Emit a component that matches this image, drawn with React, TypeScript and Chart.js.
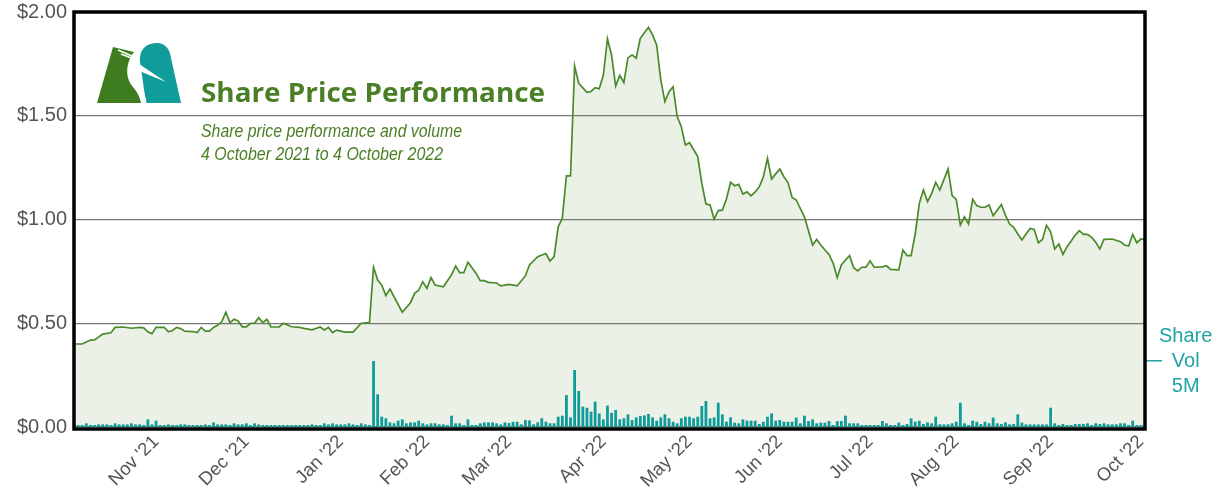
import React, { useEffect, useRef } from 'react';
import { Chart, registerables } from 'chart.js';

Chart.register(...registerables);

// ---------- DATA ----------
const startDate = '2021-10-04';
const endDate = '2022-10-04';

const monthStarts = ['2021-11', '2021-12', '2022-01', '2022-02', '2022-03', '2022-04', '2022-05', '2022-06', '2022-07', '2022-08', '2022-09', '2022-10'];
const monthLabels = ["Nov '21", "Dec '21", "Jan '22", "Feb '22", "Mar '22", "Apr '22", "May '22", "Jun '22", "Jul '22", "Aug '22", "Sep '22", "Oct '22"];

const priceTicks = [0, 0.5, 1, 1.5, 2];
const volumeTick = 5;
const volumeTickLabel = ['Share', 'Vol', '5M'];

// price: trading-day index and close price (A$)
const priceDay = [
  0, 2, 4, 5, 7, 9, 10, 12, 14, 16, 17, 18, 19, 20, 22, 23, 24, 25, 26, 27,
  29, 30, 31, 32, 33, 34, 35, 36, 37, 38, 39, 40, 41, 42, 43, 44, 45, 46, 47, 48,
  50, 51, 53, 55, 56, 58, 60, 61, 62, 63, 64, 66, 68, 70, 72, 73, 74, 75, 76, 77,
  80, 82, 83, 84, 85, 86, 87, 88, 90, 92, 93, 94, 95, 96, 98, 99, 100, 101, 103, 104,
  106, 108, 110, 111, 113, 115, 116, 117, 118, 119, 120, 121, 122, 123, 125, 126, 127, 128, 129, 130,
  131, 132, 133, 134, 135, 136, 137, 138, 139, 140, 141, 142, 143, 144, 145, 146, 147, 148, 149, 150,
  152, 153, 154, 155, 156, 157, 158, 159, 160, 161, 162, 163, 164, 165, 166, 167, 168, 169, 170, 171,
  172, 173, 174, 175, 176, 178, 180, 181, 182, 183, 184, 185, 186, 187, 188, 189, 190, 191, 192, 193,
  194, 195, 197, 198, 199, 201, 202, 203, 204, 205, 206, 207, 208, 209, 210, 211, 213, 214, 215, 216,
  217, 218, 219, 220, 221, 222, 223, 224, 226, 227, 228, 229, 230, 231, 232, 233, 234, 235, 236, 237,
  238, 239, 240, 241, 242, 243, 244, 245, 246, 247, 248, 249, 250, 251, 253, 255, 256, 257, 258, 259,
  260, 261,
];
const priceValue = [
  0.40, 0.40, 0.419, 0.42, 0.448, 0.454, 0.48, 0.482, 0.476, 0.48, 0.478, 0.459, 0.45, 0.48, 0.48, 0.459, 0.465, 0.48, 0.474, 0.462,
  0.46, 0.455, 0.48, 0.462, 0.462, 0.48, 0.49, 0.507, 0.553, 0.503, 0.519, 0.511, 0.483, 0.483, 0.50, 0.50, 0.527, 0.503, 0.519, 0.482,
  0.482, 0.50, 0.483, 0.48, 0.475, 0.468, 0.482, 0.468, 0.48, 0.455, 0.467, 0.457, 0.457, 0.50, 0.503, 0.77, 0.708, 0.684, 0.633, 0.665,
  0.553, 0.599, 0.644, 0.659, 0.70, 0.668, 0.72, 0.684, 0.676, 0.733, 0.776, 0.744, 0.744, 0.794, 0.74, 0.705, 0.705, 0.697, 0.694, 0.68,
  0.687, 0.68, 0.728, 0.781, 0.821, 0.836, 0.80, 0.821, 0.965, 1.006, 1.21, 1.21, 1.74, 1.656, 1.613, 1.617, 1.635, 1.63, 1.696, 1.871,
  1.793, 1.643, 1.694, 1.66, 1.78, 1.793, 1.777, 1.873, 1.90, 1.926, 1.89, 1.84, 1.672, 1.568, 1.616, 1.64, 1.496, 1.447, 1.359, 1.37,
  1.303, 1.174, 1.075, 1.07, 1.002, 1.043, 1.045, 1.099, 1.179, 1.163, 1.17, 1.123, 1.133, 1.114, 1.133, 1.157, 1.206, 1.295, 1.195, 1.22,
  1.243, 1.206, 1.178, 1.106, 1.094, 1.013, 0.877, 0.904, 0.877, 0.853, 0.832, 0.789, 0.72, 0.781, 0.805, 0.826, 0.768, 0.752, 0.77, 0.77,
  0.801, 0.77, 0.772, 0.777, 0.76, 0.757, 0.853, 0.826, 0.826, 0.93, 1.078, 1.142, 1.086, 1.125, 1.179, 1.142, 1.243, 1.115, 1.097, 0.973,
  1.013, 0.978, 1.097, 1.067, 1.059, 1.059, 1.07, 1.018, 1.072, 1.02, 0.978, 0.962, 0.93, 0.901, 0.93, 0.957, 0.952, 0.888, 0.904, 0.972,
  0.941, 0.858, 0.882, 0.832, 0.869, 0.896, 0.925, 0.946, 0.928, 0.928, 0.914, 0.89, 0.858, 0.904, 0.906, 0.893, 0.877, 0.872, 0.928, 0.888,
  0.906, 0.904,
];

// daily volume, millions of shares, one per trading day
const volumeM = [
  0.15, 0.15, 0.15, 0.28, 0.15, 0.15, 0.2, 0.2, 0.2, 0.15,
  0.28, 0.2, 0.2, 0.2, 0.28, 0.2, 0.2, 0.15, 0.58, 0.2,
  0.48, 0.15, 0.15, 0.2, 0.15, 0.15, 0.2, 0.2, 0.15, 0.15,
  0.15, 0.15, 0.2, 0.15, 0.35, 0.2, 0.2, 0.2, 0.15, 0.28,
  0.2, 0.2, 0.28, 0.15, 0.28, 0.2, 0.15, 0.15, 0.15, 0.15,
  0.15, 0.15, 0.15, 0.15, 0.15, 0.15, 0.15, 0.15, 0.2, 0.15,
  0.15, 0.28, 0.2, 0.28, 0.2, 0.2, 0.2, 0.28, 0.2, 0.15,
  0.28, 0.2, 0.15, 5.0, 2.48, 0.78, 0.66, 0.35, 0.28, 0.48,
  0.58, 0.28, 0.35, 0.35, 0.48, 0.28, 0.2, 0.28, 0.28, 0.2,
  0.2, 0.15, 0.86, 0.28, 0.28, 0.15, 0.58, 0.15, 0.15, 0.28,
  0.35, 0.35, 0.35, 0.28, 0.2, 0.35, 0.3, 0.4, 0.4, 0.2,
  0.53, 0.5, 0.2, 0.35, 0.66, 0.4, 0.28, 0.28, 0.78, 0.86,
  2.42, 0.73, 4.32, 2.73, 1.54, 1.46, 1.16, 1.92, 1.03, 0.58,
  1.62, 1.08, 1.29, 0.58, 0.66, 0.96, 0.53, 0.73, 0.83, 0.88,
  0.99, 0.73, 0.48, 0.73, 0.96, 0.66, 0.4, 0.28, 0.66, 0.78,
  0.78, 0.66, 0.78, 1.59, 1.97, 0.66, 0.73, 1.84, 0.96, 0.4,
  0.73, 0.33, 0.28, 0.58, 0.48, 0.48, 0.48, 0.23, 0.4, 0.78,
  1.03, 0.48, 0.53, 0.4, 0.4, 0.4, 0.71, 0.28, 0.86, 0.45,
  0.58, 0.28, 0.33, 0.33, 0.45, 0.15, 0.45, 0.45, 0.86, 0.28,
  0.28, 0.28, 0.15, 0.15, 0.15, 0.15, 0.15, 0.45, 0.28, 0.15,
  0.15, 0.33, 0.15, 0.23, 0.66, 0.4, 0.48, 0.23, 0.35, 0.28,
  0.78, 0.2, 0.2, 0.2, 0.28, 0.4, 1.84, 0.28, 0.15, 0.48,
  0.4, 0.23, 0.4, 0.28, 0.71, 0.28, 0.23, 0.35, 0.2, 0.23,
  0.96, 0.33, 0.2, 0.2, 0.2, 0.2, 0.2, 0.2, 1.46, 0.28,
  0.15, 0.23, 0.15, 0.15, 0.23, 0.23, 0.23, 0.28, 0.15, 0.28,
  0.23, 0.28, 0.2, 0.2, 0.2, 0.28, 0.28, 0.15, 0.48, 0.15,
  0.15, 0.15,
];

const titleText = 'Share Price Performance';
const subtitleLines = ['Share price performance and volume', '4 October 2021 to 4 October 2022'];

// ---------- helpers ----------
function tradingDays(from: string, to: string): string[] {
  const out: string[] = [];
  const d = new Date(from + 'T00:00:00Z');
  const end = new Date(to + 'T00:00:00Z');
  while (d.getTime() <= end.getTime()) {
    const wd = d.getUTCDay();
    if (wd !== 0 && wd !== 6) out.push(d.toISOString().slice(0, 10));
    d.setUTCDate(d.getUTCDate() + 1);
  }
  return out;
}

const GREEN = '#4a7f25';
const LINE_GREEN = '#4b8a2b';
const TEAL = '#0e9b9a';
const TEAL_TEXT = '#1fa3a3';
const FONT = '"Liberation Sans", Arial, sans-serif';

function fitText(ctx: CanvasRenderingContext2D, text: string, x: number, y: number, width: number) {
  const w = ctx.measureText(text).width;
  const sx = Math.max(0.8, Math.min(1.25, width / w));
  ctx.save();
  ctx.translate(x, y);
  ctx.scale(sx, 1);
  ctx.fillText(text, 0, 0);
  ctx.restore();
}

const overlayPlugin = {
  id: 'overlay',
  afterDraw(chart: any) {
    const { ctx, chartArea: a } = chart;
    ctx.save();
    // frame
    ctx.strokeStyle = '#000';
    ctx.lineWidth = 3.5;
    ctx.strokeRect(a.left, a.top, a.right - a.left, a.bottom - a.top + 2);

    // logo
    const ox = a.left, oy = a.top;
    ctx.fillStyle = '#0f9c9a';
    ctx.beginPath();
    ctx.moveTo(ox + 72, oy + 91);
    ctx.lineTo(ox + 66, oy + 50);
    ctx.bezierCurveTo(ox + 65, oy + 34, ox + 76, oy + 31, ox + 83, oy + 31);
    ctx.bezierCurveTo(ox + 92, oy + 31, ox + 96, oy + 38, ox + 97, oy + 46);
    ctx.lineTo(ox + 107, oy + 91);
    ctx.closePath();
    ctx.fill();

    ctx.fillStyle = '#3e7d1f';
    ctx.beginPath();
    ctx.moveTo(ox + 23, oy + 91);
    ctx.lineTo(ox + 39, oy + 35);
    ctx.lineTo(ox + 60, oy + 40);
    ctx.bezierCurveTo(ox + 52, oy + 50, ox + 50, oy + 66, ox + 60, oy + 76);
    ctx.bezierCurveTo(ox + 64, oy + 81, ox + 66, oy + 86, ox + 67, oy + 91);
    ctx.closePath();
    ctx.fill();

    // white bird neck and beak
    ctx.strokeStyle = '#fff';
    ctx.lineWidth = 5;
    ctx.beginPath();
    ctx.moveTo(ox + 63, oy + 44);
    ctx.bezierCurveTo(ox + 55, oy + 56, ox + 56, oy + 68, ox + 64, oy + 77);
    ctx.bezierCurveTo(ox + 68, oy + 82, ox + 70, oy + 87, ox + 70, oy + 91);
    ctx.stroke();
    ctx.fillStyle = '#fff';
    ctx.beginPath();
    ctx.moveTo(ox + 62, oy + 50);
    ctx.lineTo(ox + 92, oy + 70);
    ctx.lineTo(ox + 63, oy + 58);
    ctx.closePath();
    ctx.fill();
    ctx.lineWidth = 1.5;
    ctx.beginPath();
    ctx.moveTo(ox + 44, oy + 38);
    ctx.lineTo(ox + 58, oy + 44);
    ctx.moveTo(ox + 47, oy + 42);
    ctx.lineTo(ox + 60, oy + 47);
    ctx.stroke();

    // title
    ctx.fillStyle = GREEN;
    ctx.textBaseline = 'alphabetic';
    ctx.textAlign = 'left';
    ctx.font = 'bold 26px "Open Sans", sans-serif';
    fitText(ctx, titleText, ox + 127, oy + 90, 344);
    ctx.font = 'italic 17.5px ' + FONT;
    fitText(ctx, subtitleLines[0], ox + 127, oy + 125, 261);
    fitText(ctx, subtitleLines[1], ox + 127, oy + 148, 242);
    ctx.restore();
  },
};

const noPad = (s: any) => {
  s.paddingTop = 0;
  s.paddingBottom = 0;
};

export default function App() {
  const canvasRef = useRef<HTMLCanvasElement | null>(null);

  useEffect(() => {
    document.body.style.margin = '0';
    const days = tradingDays(startDate, endDate);
    const tickIdx = monthStarts.map((m) => days.findIndex((d) => d.startsWith(m)));
    const tickLabelByIdx: Record<number, string> = {};
    tickIdx.forEach((t, k) => (tickLabelByIdx[t] = monthLabels[k]));

    const priceData = priceDay.map((d, k) => ({ x: d, y: priceValue[k] }));
    const volData = volumeM.map((v, k) => ({ x: k, y: v }));

    Chart.defaults.font.family = FONT;

    const chart = new Chart(canvasRef.current as HTMLCanvasElement, {
      type: 'line',
      data: {
        datasets: [
          {
            type: 'bar',
            label: 'Volume',
            data: volData as any,
            yAxisID: 'yv',
            backgroundColor: TEAL,
            borderWidth: 0,
            barPercentage: 0.68,
            categoryPercentage: 1,
            order: 0,
          } as any,
          {
            type: 'line',
            label: 'Price',
            data: priceData as any,
            yAxisID: 'y',
            borderColor: LINE_GREEN,
            borderWidth: 1.7,
            backgroundColor: 'rgba(88,140,50,0.12)',
            fill: 'origin',
            pointRadius: 0,
            tension: 0,
            order: 1,
          } as any,
        ],
      },
      options: {
        animation: false,
        responsive: true,
        maintainAspectRatio: false,
        layout: { padding: { top: 12, left: 0, right: 0, bottom: 0 } },
        plugins: { legend: { display: false }, tooltip: { enabled: false }, title: { display: false } },
        scales: {
          x: {
            type: 'linear',
            min: 0,
            max: days.length - 1,
            offset: false,
            grid: { display: false, drawTicks: false },
            border: { display: false },
            afterBuildTicks: (s: any) => {
              s.ticks = tickIdx.map((v) => ({ value: v }));
            },
            afterFit: (s: any) => {
              s.height = 65;
              s.paddingLeft = 0;
              s.paddingRight = 0;
            },
            ticks: {
              autoSkip: false,
              minRotation: 45,
              maxRotation: 45,
              padding: 4,
              color: '#555',
              font: { size: 18.5 },
              callback: (v: any) => tickLabelByIdx[v] ?? '',
            },
          },
          y: {
            position: 'left',
            min: 0,
            max: 2,
            afterBuildTicks: (s: any) => {
              s.ticks = priceTicks.map((v) => ({ value: v }));
            },
            afterFit: (s: any) => {
              s.width = 74;
              noPad(s);
            },
            grid: { color: '#777', lineWidth: 1.3, drawTicks: false },
            border: { display: false },
            ticks: {
              padding: 7,
              color: '#555',
              font: { size: 20 },
              callback: (v: any) => '$' + Number(v).toFixed(2),
            },
          },
          yv: {
            position: 'right',
            min: 0,
            max: 31.44,
            afterBuildTicks: (s: any) => {
              s.ticks = [{ value: volumeTick }];
            },
            afterFit: (s: any) => {
              s.width = 81;
              noPad(s);
            },
            grid: { drawOnChartArea: false, drawTicks: true, tickLength: 17, color: TEAL_TEXT, lineWidth: 1.5 },
            border: { display: false },
            ticks: {
              padding: -3,
              crossAlign: 'center',
              color: TEAL_TEXT,
              font: { size: 20, lineHeight: 1.25 },
              callback: () => volumeTickLabel,
            },
          },
        },
      } as any,
      plugins: [overlayPlugin],
    });
    return () => chart.destroy();
  }, []);

  return (
    <div style={{ position: 'absolute', left: 0, top: 0, width: 1226, height: 492, background: '#fff' }}>
      <canvas ref={canvasRef} />
    </div>
  );
}
